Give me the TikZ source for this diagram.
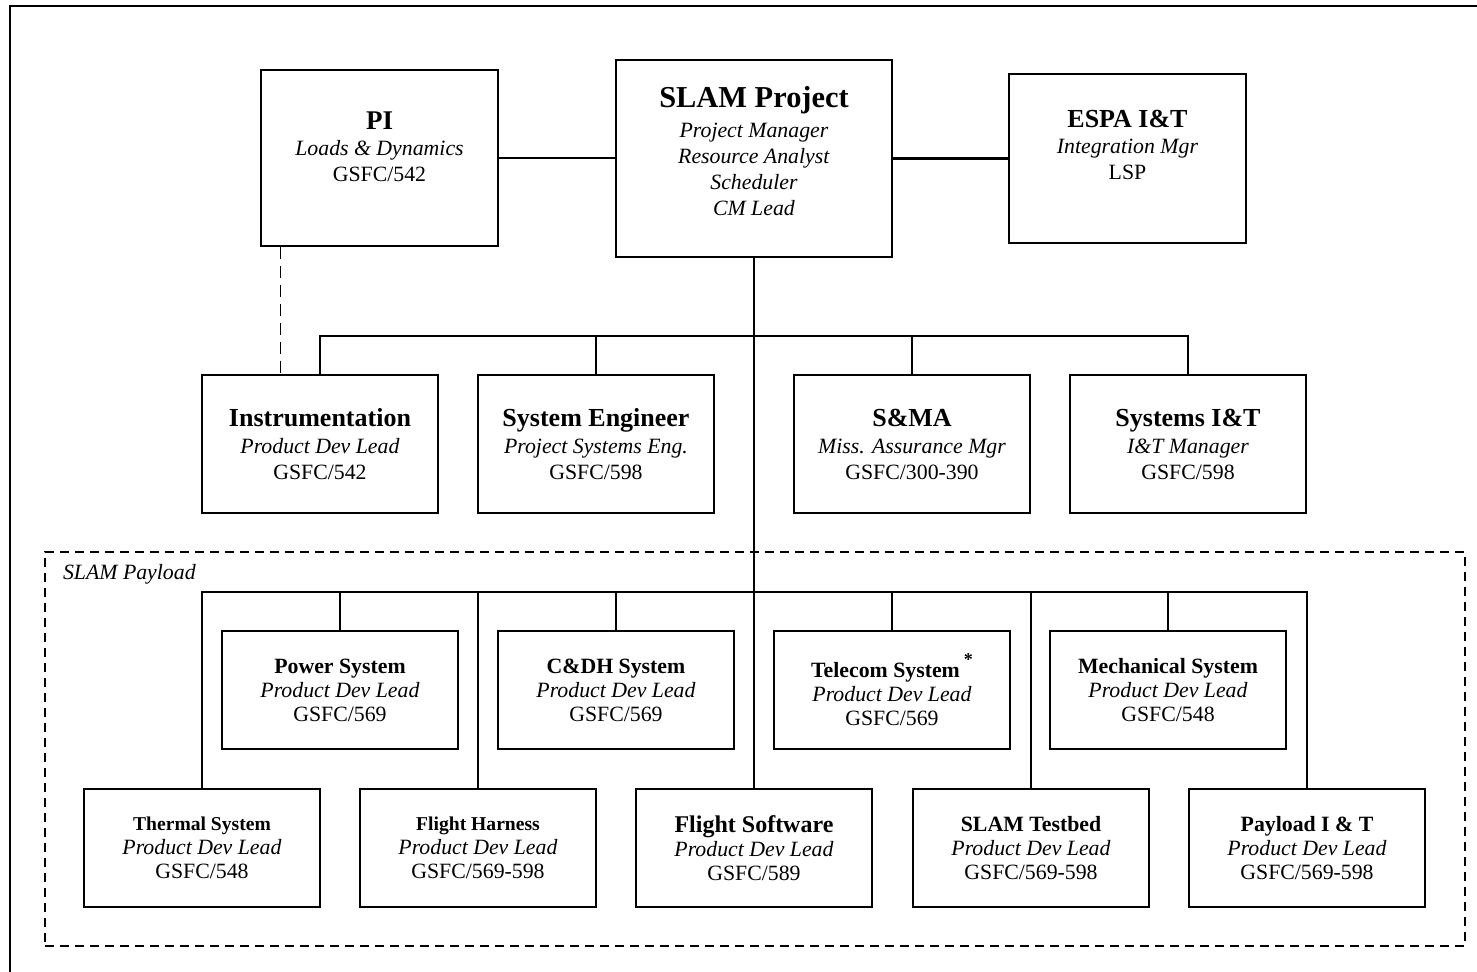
\documentclass[tikz,border=0pt]{standalone}
\usepackage{fontspec}
\setmainfont{Liberation Serif}
\newcommand{\boxtitle}[2]{{\fontsize{#1}{#1}\selectfont\bfseries #2}}
\begin{document}
\begin{tikzpicture}[x=0.5pt,y=-0.5pt,
    box/.style={draw, line width=0.9pt, align=center, inner sep=2pt,
      font=\fontsize{10.9}{13}\selectfont},
    boxtext/.style={align=center, inner sep=0pt, font=\fontsize{10.9}{13}\selectfont},
    midbox/.style={box, minimum width=118pt, minimum height=69pt},
    subbox/.style={box, minimum width=118pt, minimum height=59pt,
      font=\fontsize{10.9}{12}\selectfont},
    wire/.style={line width=1.2pt}
    ]
  \useasboundingbox (0,0) rectangle (1477,971);
  \draw[line width=1pt] (10,990) -- (10,6) -- (1490,6);

  \node[draw, dash pattern=on 4.5pt off 3pt, line width=0.7pt,
    minimum width=710pt, minimum height=197pt] (payload) at (755,749) {};
  \node[anchor=west, font=\fontsize{10.9}{13}\selectfont\itshape] (payloadname)
    at (56,574) {SLAM Payload};

  \node[box, minimum width=118.5pt, minimum height=88pt] (pi) at (379.5,158) {};
  \node[boxtext] (pitext) at ([yshift=5.8pt]pi.center)
    {\boxtitle{13.5}{PI}\\\textit{Loads \& Dynamics}\\GSFC/542};
  \node[box, minimum width=138pt, minimum height=98.5pt] (slam) at (754,158.5) {};
  \node[boxtext] (slamtext) at ([yshift=3.6pt]slam.center)
    {\boxtitle{15.2}{SLAM Project}\\[2pt]\textit{Project Manager}\\
     \textit{Resource Analyst}\\\textit{Scheduler}\\\textit{CM Lead}};
  \node[box, minimum width=118.5pt, minimum height=84.5pt] (espa) at (1127.5,158.5) {};
  \node[boxtext] (espatext) at ([yshift=7pt]espa.center)
    {\boxtitle{13}{ESPA I\&T}\\\textit{Integration Mgr}\\LSP};

  \node[midbox] (instr) at (320,444)
    {\boxtitle{13}{Instrumentation}\\[0.5pt]\textit{Product Dev Lead}\\GSFC/542};
  \node[midbox] (seng) at (596,444)
    {\boxtitle{13}{System Engineer}\\[0.5pt]\textit{Project Systems Eng.}\\GSFC/598};
  \node[midbox] (sma) at (912,444)
    {\boxtitle{13}{S\&MA}\\[0.5pt]\textit{Miss. Assurance Mgr}\\GSFC/300-390};
  \node[midbox] (sit) at (1188,444)
    {\boxtitle{13}{Systems I\&T}\\[0.5pt]\textit{I\&T Manager}\\GSFC/598};

  \node[subbox] (power) at (340,690)
    {\boxtitle{10.9}{Power System}\\\textit{Product Dev Lead}\\GSFC/569};
  \node[subbox] (cdh) at (616,690)
    {\boxtitle{10.9}{C\&DH System}\\\textit{Product Dev Lead}\\GSFC/569};
  \node[subbox] (telecom) at (892,690)
    {\boxtitle{10.9}{Telecom System\hspace{2pt}\raisebox{6pt}{\small *}}\\\textit{Product Dev Lead}\\GSFC/569};
  \node[subbox] (mech) at (1168,690)
    {\boxtitle{10.9}{Mechanical System}\\\textit{Product Dev Lead}\\GSFC/548};

  \node[subbox] (thermal) at (202,848)
    {\boxtitle{9.8}{Thermal System}\\\textit{Product Dev Lead}\\GSFC/548};
  \node[subbox] (harness) at (478,848)
    {\boxtitle{9.8}{Flight Harness}\\\textit{Product Dev Lead}\\GSFC/569-598};
  \node[subbox] (fsw) at (754,848)
    {\boxtitle{12}{Flight Software}\\\textit{Product Dev Lead}\\GSFC/589};
  \node[subbox] (testbed) at (1031,848)
    {\boxtitle{10.9}{SLAM Testbed}\\\textit{Product Dev Lead}\\GSFC/569-598};
  \node[subbox] (pit) at (1307,848)
    {\boxtitle{10.9}{Payload I \& T}\\\textit{Product Dev Lead}\\GSFC/569-598};

  \coordinate (midbus) at (754,336);
  \coordinate (lowbus) at (754,592);

  \draw[wire] (pi.east) -- (pi.east -| slam.west);
  \draw[wire] (slam.east) -- (espa.west);
  \draw[wire] (slam.south) -- (fsw.north);
  \draw[wire] (instr.north) |- (midbus) -| (sit.north);
  \draw[wire] (seng.north) -- (seng.north |- midbus);
  \draw[wire] (sma.north) -- (sma.north |- midbus);
  \draw[wire] (thermal.north) |- (lowbus) -| (pit.north);
  \draw[wire] (power.north) -- (power.north |- lowbus);
  \draw[wire] (cdh.north) -- (cdh.north |- lowbus);
  \draw[wire] (telecom.north) -- (telecom.north |- lowbus);
  \draw[wire] (mech.north) -- (mech.north |- lowbus);
  \draw[wire] (harness.north) -- (harness.north |- lowbus);
  \draw[wire] (testbed.north) -- (testbed.north |- lowbus);
  \draw[dash pattern=on 6pt off 3.5pt, line width=0.6pt]
    ([xshift=10pt]pi.south west) -- ([xshift=10pt]pi.south west |- instr.north);
\end{tikzpicture}
\end{document}
